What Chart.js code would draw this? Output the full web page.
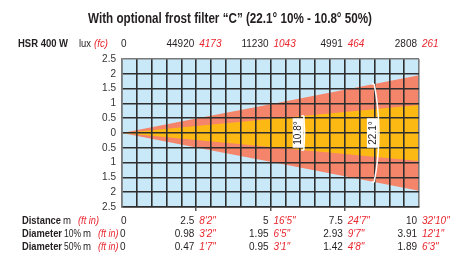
<!DOCTYPE html>
<html>
<head>
<meta charset="utf-8">
<script src="https://cdn.jsdelivr.net/npm/chart.js@4/dist/chart.umd.min.js"></script>
<style>
html,body{margin:0;padding:0;background:#fff;}
#c{display:block;}
</style>
</head>
<body>
<canvas id="c" width="456" height="255"></canvas>
<script>
// ---- data ----
const titleText = 'With optional frost filter \u201CC\u201D (22.1\u00B0 10% - 10.8\u00B0 50%)';
const lampLabel = 'HSR 400 W';
const distances = [0, 2.5, 5, 7.5, 10];
const luxValues = ['0', '44920', '11230', '4991', '2808'];
const fcValues = ['', '4173', '1043', '464', '261'];
const distanceFt = ['', "8'2\"", "16'5\"", "24'7\"", "32'10\""];
const diam10 = [0, 0.98, 1.95, 2.93, 3.91];
const diam10Ft = ['', "3'2\"", "6'5\"", "9'7\"", "12'1\""];
const diam50 = [0, 0.47, 0.95, 1.42, 1.89];
const diam50Ft = ['', "1'7\"", "3'1\"", "4'8\"", "6'3\""];
const angleLabels = ['22.1\u00B0', '10.8\u00B0'];

const BLUE = '#c9e9f8', RED = '#f4846a', YELLOW = '#fdb913';
const INK = '#231f20', REDTXT = '#e8262e', GRID = '#2e2e2e', EDGE = '#7a7a7a';

function edge(diams, sign) {
  return distances.map((d, i) => ({x: d, y: sign * diams[i] / 2}));
}

const bgPlugin = {
  id: 'bg',
  beforeDraw(chart) {
    const {ctx, chartArea: a} = chart;
    ctx.save();
    ctx.fillStyle = BLUE;
    ctx.fillRect(a.left, a.top, a.right - a.left, a.bottom - a.top);
    ctx.restore();
  }
};

const textPlugin = {
  id: 'texts',
  afterDraw(chart) {
    const ctx = chart.ctx;
    const xs = chart.scales.x, ys = chart.scales.y;
    const F = '"Liberation Sans", Arial, sans-serif';
    ctx.save();

    // beam angle arcs
    const x0 = xs.getPixelForValue(0), y0 = ys.getPixelForValue(0);
    const arcs = [
      {diams: diam10, r: 8.65, label: angleLabels[0]},
      {diams: diam50, r: 6.15, label: angleLabels[1]}
    ];
    arcs.forEach(a => {
      const last = distances.length - 1;
      const ang = Math.atan2(y0 - ys.getPixelForValue(a.diams[last] / 2), xs.getPixelForValue(distances[last]) - x0);
      const r = xs.getPixelForValue(a.r) - x0;
      ctx.strokeStyle = '#ffffff';
      ctx.lineWidth = 1.5;
      ctx.beginPath();
      ctx.arc(x0, y0, r, -ang, ang);
      ctx.stroke();
      [-1, 1].forEach(s => {
        const ex = x0 + r * Math.cos(ang), ey = y0 + s * r * Math.sin(ang);
        ctx.beginPath();
        ctx.moveTo(ex, ey);
        ctx.lineTo(ex - 2.5, ey);
        ctx.stroke();
      });
      const cx = x0 + r - 6.5;
      ctx.font = '10px ' + F;
      const tw = ctx.measureText(a.label).width;
      ctx.fillStyle = '#ffffff';
      ctx.fillRect(cx - 5.5, y0 - tw / 2 - 3, 11, tw + 6);
      ctx.translate(cx, y0);
      ctx.rotate(-Math.PI / 2);
      ctx.fillStyle = INK;
      ctx.textAlign = 'center';
      ctx.textBaseline = 'middle';
      ctx.fillText(a.label, 0, 0.5);
      ctx.setTransform(1, 0, 0, 1, 0, 0);
    });

    // title
    ctx.fillStyle = INK;
    ctx.textAlign = 'center';
    ctx.textBaseline = 'alphabetic';
    ctx.font = 'bold 14px ' + F;
    ctx.fillText(titleText, 230, 23, 284);

    function seg(txt, x, y, style, color, align, maxW) {
      ctx.font = style + ' ' + F;
      ctx.fillStyle = color;
      ctx.textAlign = align || 'left';
      if (maxW) ctx.fillText(txt, x, y, maxW); else ctx.fillText(txt, x, y);
    }

    // row headers
    seg(lampLabel, 18, 47, 'bold 10px', INK, 'left', 50);
    seg('lux', 79, 47, '10px', INK, 'left', 12);
    seg('(fc)', 94, 47, 'italic 10px', REDTXT, 'left', 14);

    seg('Distance', 22, 224, 'bold 10px', INK, 'left', 39);
    seg('m', 63, 224, '10px', INK, 'left', 8);
    seg('(ft in)', 78, 224, 'italic 10px', REDTXT, 'left', 21);

    [237, 250].forEach((y, k) => {
      seg('Diameter', 22, y, 'bold 10px', INK, 'left', 40);
      seg(k === 0 ? '10%' : '50%', 64, y, '10px', INK, 'left', 17);
      seg('m', 83, y, '10px', INK, 'left', 8);
      seg('(ft in)', 98, y, 'italic 10px', REDTXT, 'left', 20.5);
    });

    // value columns
    const rows = [
      {y: 47, a: luxValues, b: fcValues, z: 0},
      {y: 224, a: distances.map(String), b: distanceFt, z: 0},
      {y: 237, a: diam10.map(String), b: diam10Ft, z: -1},
      {y: 250, a: diam50.map(String), b: diam50Ft, z: -1}
    ];
    rows.forEach(row => {
      distances.forEach((d, i) => {
        const px = xs.getPixelForValue(d);
        if (i === 0) {
          seg(row.a[i], px - 1 + row.z, row.y, '10px', INK, 'left');
        } else {
          seg(row.a[i], px - 2, row.y, '10px', INK, 'right');
          seg(row.b[i], px + 3, row.y, 'italic 10px', REDTXT, 'left');
        }
      });
    });
    ctx.restore();
  }
};

new Chart(document.getElementById('c'), {
  type: 'line',
  data: {
    datasets: [
      {label: '50% top', data: edge(diam50, 1), fill: '+1', backgroundColor: YELLOW, borderWidth: 0, pointRadius: 0, tension: 0},
      {label: '50% bottom', data: edge(diam50, -1), fill: false, borderWidth: 0, pointRadius: 0, tension: 0},
      {label: '10% top', data: edge(diam10, 1), fill: '+1', backgroundColor: RED, borderWidth: 0, pointRadius: 0, tension: 0},
      {label: '10% bottom', data: edge(diam10, -1), fill: false, borderWidth: 0, pointRadius: 0, tension: 0}
    ]
  },
  options: {
    responsive: false,
    animation: false,
    devicePixelRatio: 1,
    layout: {padding: {top: 59, right: 37, left: 0, bottom: 0}},
    plugins: {legend: {display: false}, tooltip: {enabled: false}, title: {display: false}},
    scales: {
      x: {
        type: 'linear', min: 0, max: 10,
        afterFit(s) { s.height = 48; },
        ticks: {display: false, stepSize: 0.5, autoSkip: false},
        grid: {
          z: 1, lineWidth: 1.6, drawTicks: true, tickLength: 4,
          color: c => (c.tick && (c.tick.value === 0 || c.tick.value === 10)) ? EDGE : GRID,
          tickColor: c => (c.tick && c.tick.value > 0 && c.tick.value < 10 && c.tick.value % 2.5 === 0) ? GRID : 'rgba(0,0,0,0)',
          tickWidth: 1.2
        },
        border: {z: 1, color: GRID, width: 1.6}
      },
      y: {
        type: 'linear', min: -2.5, max: 2.5,
        afterFit(s) { s.width = 122; },
        ticks: {
          stepSize: 0.5, padding: 6, color: '#333', autoSkip: false,
          font: {family: '"Liberation Sans", Arial, sans-serif', size: 10},
          callback: v => String(Math.abs(Math.round(v * 10) / 10))
        },
        grid: {
          z: 1, lineWidth: 1.6, drawTicks: false,
          color: c => (c.tick && c.tick.value === 2.5) ? EDGE : GRID
        },
        border: {z: 1, color: EDGE, width: 1.6}
      }
    }
  },
  plugins: [bgPlugin, textPlugin]
});
</script>
</body>
</html>
